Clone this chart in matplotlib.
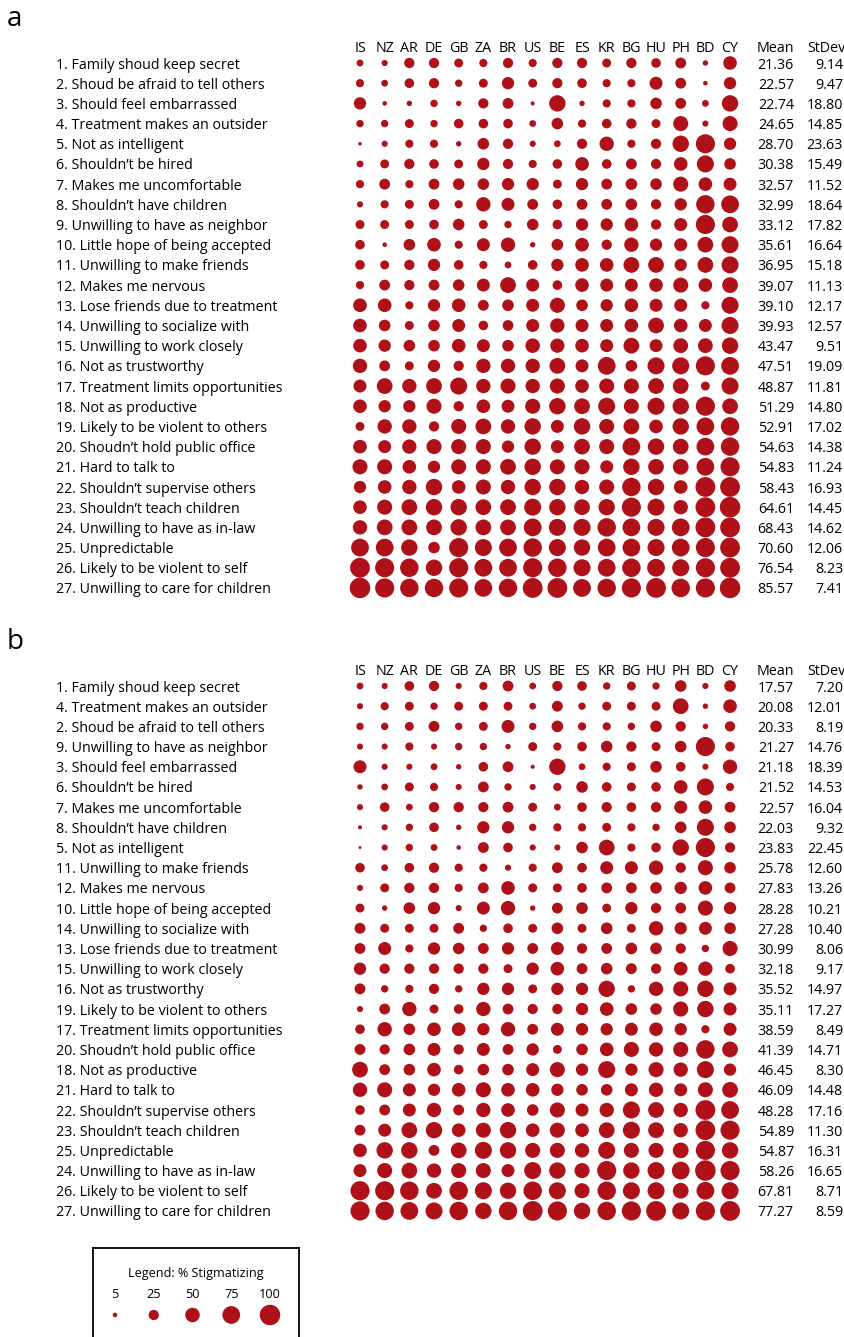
import numpy as np
import matplotlib.pyplot as plt
from matplotlib import transforms as mtransforms

plt.rcParams['font.family'] = ['Open Sans', 'DejaVu Sans']

# countries (columns), same in both panels
countries = ['IS', 'NZ', 'AR', 'DE', 'GB', 'ZA', 'BR', 'US', 'BE', 'ES',
             'KR', 'BG', 'HU', 'PH', 'BD', 'CY']

# panel a - items, % stigmatizing per country, mean, stdev
labels_a = [
    '1. Family shoud keep secret', '2. Shoud be afraid to tell others',
    '3. Should feel embarrassed', '4. Treatment makes an outsider',
    '5. Not as intelligent', '6. Shouldn\u2019t be hired',
    '7. Makes me uncomfortable', '8. Shouldn\u2019t have children',
    '9. Unwilling to have as neighbor', '10. Little hope of being accepted',
    '11. Unwilling to make friends', '12. Makes me nervous',
    '13. Lose friends due to treatment', '14. Unwilling to socialize with',
    '15. Unwilling to work closely', '16. Not as trustworthy',
    '17. Treatment limits opportunities', '18. Not as productive',
    '19. Likely to be violent to others', '20. Shoudn\u2019t hold public office',
    '21. Hard to talk to', '22. Shouldn\u2019t supervise others',
    '23. Shouldn\u2019t teach children', '24. Unwilling to have as in-law',
    '25. Unpredictable', '26. Likely to be violent to self',
    '27. Unwilling to care for children']
vals_a = [
    [11, 9, 25, 25, 19, 16, 25, 16, 25, 25, 19, 25, 22, 28, 7, 44],
    [16, 11, 22, 25, 13, 19, 36, 19, 25, 22, 16, 16, 40, 28, 5, 36],
    [36, 5, 7, 13, 7, 25, 28, 4, 64, 7, 16, 16, 32, 28, 11, 64],
    [13, 13, 19, 13, 22, 22, 22, 11, 32, 16, 22, 25, 19, 54, 9, 54],
    [3, 9, 16, 16, 7, 32, 25, 9, 11, 25, 49, 16, 25, 64, 87, 36],
    [11, 19, 25, 22, 19, 36, 25, 16, 22, 44, 22, 28, 25, 44, 69, 32],
    [16, 28, 16, 28, 32, 32, 36, 36, 19, 36, 28, 32, 32, 54, 44, 40],
    [9, 16, 19, 28, 16, 49, 40, 28, 22, 28, 28, 32, 25, 36, 81, 75],
    [19, 19, 19, 22, 32, 19, 13, 32, 22, 36, 36, 44, 25, 40, 87, 59],
    [22, 5, 32, 44, 16, 40, 49, 7, 32, 44, 25, 49, 36, 40, 59, 69],
    [22, 19, 25, 36, 22, 16, 11, 22, 36, 44, 44, 59, 59, 36, 59, 69],
    [16, 28, 25, 28, 32, 40, 59, 40, 22, 44, 40, 40, 44, 54, 44, 59],
    [44, 44, 16, 36, 44, 28, 32, 40, 54, 32, 36, 44, 40, 40, 16, 69],
    [44, 32, 19, 32, 40, 22, 28, 40, 49, 40, 40, 44, 59, 44, 40, 69],
    [44, 36, 32, 32, 44, 40, 32, 50, 48, 44, 40, 59, 40, 52, 52, 64],
    [49, 28, 19, 36, 25, 49, 49, 49, 59, 40, 75, 32, 69, 69, 87, 75],
    [40, 59, 49, 59, 69, 49, 54, 49, 54, 44, 54, 54, 59, 59, 19, 69],
    [44, 36, 36, 54, 25, 44, 40, 54, 64, 59, 69, 54, 69, 64, 87, 59],
    [19, 49, 49, 25, 54, 59, 49, 64, 40, 64, 54, 59, 44, 64, 75, 81],
    [44, 40, 49, 54, 54, 54, 36, 64, 40, 59, 54, 75, 64, 59, 75, 81],
    [54, 54, 44, 36, 54, 54, 59, 64, 54, 54, 40, 64, 59, 59, 75, 87],
    [36, 44, 49, 64, 44, 54, 49, 64, 64, 49, 54, 81, 64, 44, 93, 93],
    [44, 54, 59, 64, 64, 59, 59, 69, 64, 59, 64, 87, 69, 49, 93, 100],
    [49, 59, 59, 59, 64, 59, 59, 75, 69, 69, 81, 75, 69, 75, 93, 93],
    [75, 75, 64, 32, 87, 69, 75, 81, 69, 64, 75, 75, 69, 75, 87, 93],
    [93, 87, 81, 64, 87, 75, 75, 87, 81, 69, 75, 81, 75, 69, 87, 93],
    [100, 87, 81, 81, 87, 75, 81, 93, 93, 75, 81, 87, 93, 81, 87, 100]]
mean_a = ['21.36', '22.57', '22.74', '24.65', '28.70', '30.38', '32.57', '32.99',
          '33.12', '35.61', '36.95', '39.07', '39.10', '39.93', '43.47', '47.51',
          '48.87', '51.29', '52.91', '54.63', '54.83', '58.43', '64.61', '68.43',
          '70.60', '76.54', '85.57']
sd_a = ['9.14', '9.47', '18.80', '14.85', '23.63', '15.49', '11.52', '18.64',
        '17.82', '16.64', '15.18', '11.13', '12.17', '12.57', '9.51', '19.09',
        '11.81', '14.80', '17.02', '14.38', '11.24', '16.93', '14.45', '14.62',
        '12.06', '8.23', '7.41']

# panel b
labels_b = [
    '1. Family shoud keep secret', '4. Treatment makes an outsider',
    '2. Shoud be afraid to tell others', '9. Unwilling to have as neighbor',
    '3. Should feel embarrassed', '6. Shouldn\u2019t be hired',
    '7. Makes me uncomfortable', '8. Shouldn\u2019t have children',
    '5. Not as intelligent', '11. Unwilling to make friends',
    '12. Makes me nervous', '10. Little hope of being accepted',
    '14. Unwilling to socialize with', '13. Lose friends due to treatment',
    '15. Unwilling to work closely', '16. Not as trustworthy',
    '19. Likely to be violent to others', '17. Treatment limits opportunities',
    '20. Shoudn\u2019t hold public office', '18. Not as productive',
    '21. Hard to talk to', '22. Shouldn\u2019t supervise others',
    '23. Shouldn\u2019t teach children', '25. Unpredictable',
    '24. Unwilling to have as in-law', '26. Likely to be violent to self',
    '27. Unwilling to care for children']
vals_b = [
    [11, 9, 22, 25, 9, 16, 28, 11, 25, 22, 13, 19, 13, 32, 9, 32],
    [9, 16, 19, 13, 19, 19, 19, 11, 28, 13, 19, 19, 19, 59, 7, 44],
    [13, 13, 19, 28, 13, 19, 40, 13, 32, 16, 16, 13, 32, 25, 7, 25],
    [9, 9, 16, 9, 13, 13, 7, 19, 16, 22, 32, 25, 19, 32, 87, 22],
    [40, 9, 9, 11, 7, 22, 28, 4, 64, 11, 16, 19, 32, 22, 9, 49],
    [7, 11, 19, 16, 9, 28, 13, 9, 16, 32, 22, 19, 22, 44, 69, 16],
    [9, 22, 11, 25, 25, 25, 28, 19, 11, 22, 25, 22, 25, 40, 44, 28],
    [4, 9, 13, 22, 7, 36, 36, 13, 16, 16, 19, 16, 13, 32, 69, 32],
    [2, 9, 13, 11, 5, 28, 22, 9, 9, 32, 59, 16, 22, 64, 87, 25],
    [22, 11, 22, 25, 16, 16, 9, 16, 28, 22, 40, 40, 49, 25, 54, 32],
    [9, 19, 25, 25, 16, 28, 44, 19, 19, 22, 28, 28, 32, 36, 44, 28],
    [19, 7, 32, 36, 9, 40, 49, 7, 28, 32, 19, 36, 25, 28, 54, 36],
    [28, 19, 19, 19, 28, 13, 22, 19, 32, 19, 32, 19, 49, 36, 40, 32],
    [28, 40, 16, 36, 32, 28, 36, 28, 40, 25, 28, 32, 32, 25, 13, 54],
    [36, 25, 25, 25, 25, 25, 19, 36, 44, 28, 32, 28, 25, 44, 49, 22],
    [28, 13, 16, 25, 13, 36, 36, 19, 36, 36, 64, 13, 49, 54, 64, 40],
    [9, 28, 49, 19, 22, 49, 28, 25, 25, 36, 44, 32, 32, 54, 64, 40],
    [22, 49, 32, 44, 44, 36, 49, 28, 40, 36, 36, 40, 44, 36, 16, 40],
    [28, 25, 32, 40, 25, 40, 28, 36, 19, 32, 44, 54, 49, 54, 81, 59],
    [59, 28, 32, 44, 22, 32, 32, 40, 54, 36, 69, 36, 54, 49, 69, 36],
    [49, 54, 40, 36, 44, 54, 44, 44, 36, 32, 32, 40, 49, 40, 54, 59],
    [22, 28, 40, 49, 28, 49, 44, 32, 54, 40, 49, 69, 59, 49, 93, 75],
    [28, 40, 59, 64, 44, 54, 64, 44, 54, 44, 59, 69, 59, 49, 93, 87],
    [44, 64, 64, 28, 59, 69, 64, 54, 54, 49, 69, 54, 54, 59, 87, 64],
    [40, 54, 59, 49, 54, 54, 40, 69, 64, 54, 87, 64, 69, 75, 100, 87],
    [87, 87, 81, 59, 81, 69, 64, 81, 69, 54, 81, 69, 69, 59, 75, 69],
    [87, 81, 75, 69, 81, 64, 81, 93, 87, 64, 81, 87, 93, 69, 87, 93]]
mean_b = ['17.57', '20.08', '20.33', '21.27', '21.18', '21.52', '22.57', '22.03',
          '23.83', '25.78', '27.83', '28.28', '27.28', '30.99', '32.18', '35.52',
          '35.11', '38.59', '41.39', '46.45', '46.09', '48.28', '54.89', '54.87',
          '58.26', '67.81', '77.27']
sd_b = ['7.20', '12.01', '8.19', '14.76', '18.39', '14.53', '16.04', '9.32',
        '22.45', '12.60', '13.26', '10.21', '10.40', '8.06', '9.17', '14.97',
        '17.27', '8.49', '14.71', '8.30', '14.48', '17.16', '11.30', '16.31',
        '16.65', '8.71', '8.59']

legend_vals = [5, 25, 50, 75, 100]

W, H = 844, 1337
RED = '#ae1218'
FS = 10.3
S_PER_PCT = 2.18      # marker area per percent -> 100% is ~20 px wide
TY = 0.1              # small downward nudge of text relative to dot rows

fig = plt.figure(figsize=(W / 100, H / 100), dpi=100)


def px_axes(left, top, width, height):
    return fig.add_axes([left / W, 1 - (top + height) / H, width / W, height / H])


def panel(top, letter, labels, vals, means, sds):
    colw, rowh = 24.67, 20.19
    ax = px_axes(360 - colw / 2, top - rowh / 2, colw * 16, rowh * 27)
    ax.set_xlim(-0.5, 15.5)
    ax.set_ylim(26.5, -0.5)
    ax.axis('off')
    v = np.array(vals, dtype=float)
    xx, yy = np.meshgrid(np.arange(v.shape[1]), np.arange(v.shape[0]))
    ax.scatter(xx.ravel(), yy.ravel(), s=S_PER_PCT * v.ravel(), color=RED,
               linewidths=0, clip_on=False)
    for i, c in enumerate(countries):
        ax.text(i, -0.82 + TY, c, ha='center', va='center', fontsize=FS)
    tr = mtransforms.blended_transform_factory(fig.transFigure, ax.transData)
    ax.text(794 / W, -0.82 + TY, 'Mean', ha='right', va='center', fontsize=FS, transform=tr)
    ax.text(845 / W, -0.82 + TY, 'StDev', ha='right', va='center', fontsize=FS, transform=tr)
    for j in range(len(labels)):
        ax.text(56 / W, j + TY, labels[j], ha='left', va='center', fontsize=FS, transform=tr)
        ax.text(794 / W, j + TY, means[j], ha='right', va='center', fontsize=FS, transform=tr)
        ax.text(843 / W, j + TY, sds[j], ha='right', va='center', fontsize=FS, transform=tr)
    fig.text(7 / W, 1 - (top - 44) / H, letter, fontsize=20, ha='left', va='center')


panel(63, 'a', labels_a, vals_a, mean_a, sd_a)
panel(686, 'b', labels_b, vals_b, mean_b, sd_b)

# legend box
lx0, step = 115, 38.75
lax = px_axes(93, 1248, 206, 96)
lax.set_xlim((93 - lx0) / step, (299 - lx0) / step)
lax.set_ylim(96, 0)
lax.set_xticks([])
lax.set_yticks([])
for sp in lax.spines.values():
    sp.set_linewidth(1.3)
lax.text(0.5, 25, 'Legend: % Stigmatizing',
         transform=mtransforms.blended_transform_factory(lax.transAxes, lax.transData),
         ha='center', va='center', fontsize=9.1)
idx = np.arange(len(legend_vals))
for i, lv in enumerate(legend_vals):
    lax.text(i, 46, str(lv), ha='center', va='center', fontsize=9.1)
lax.scatter(idx, np.full(len(idx), 67.0), s=S_PER_PCT * np.array(legend_vals),
            color=RED, linewidths=0)

fig.savefig('out.png', dpi=100)
